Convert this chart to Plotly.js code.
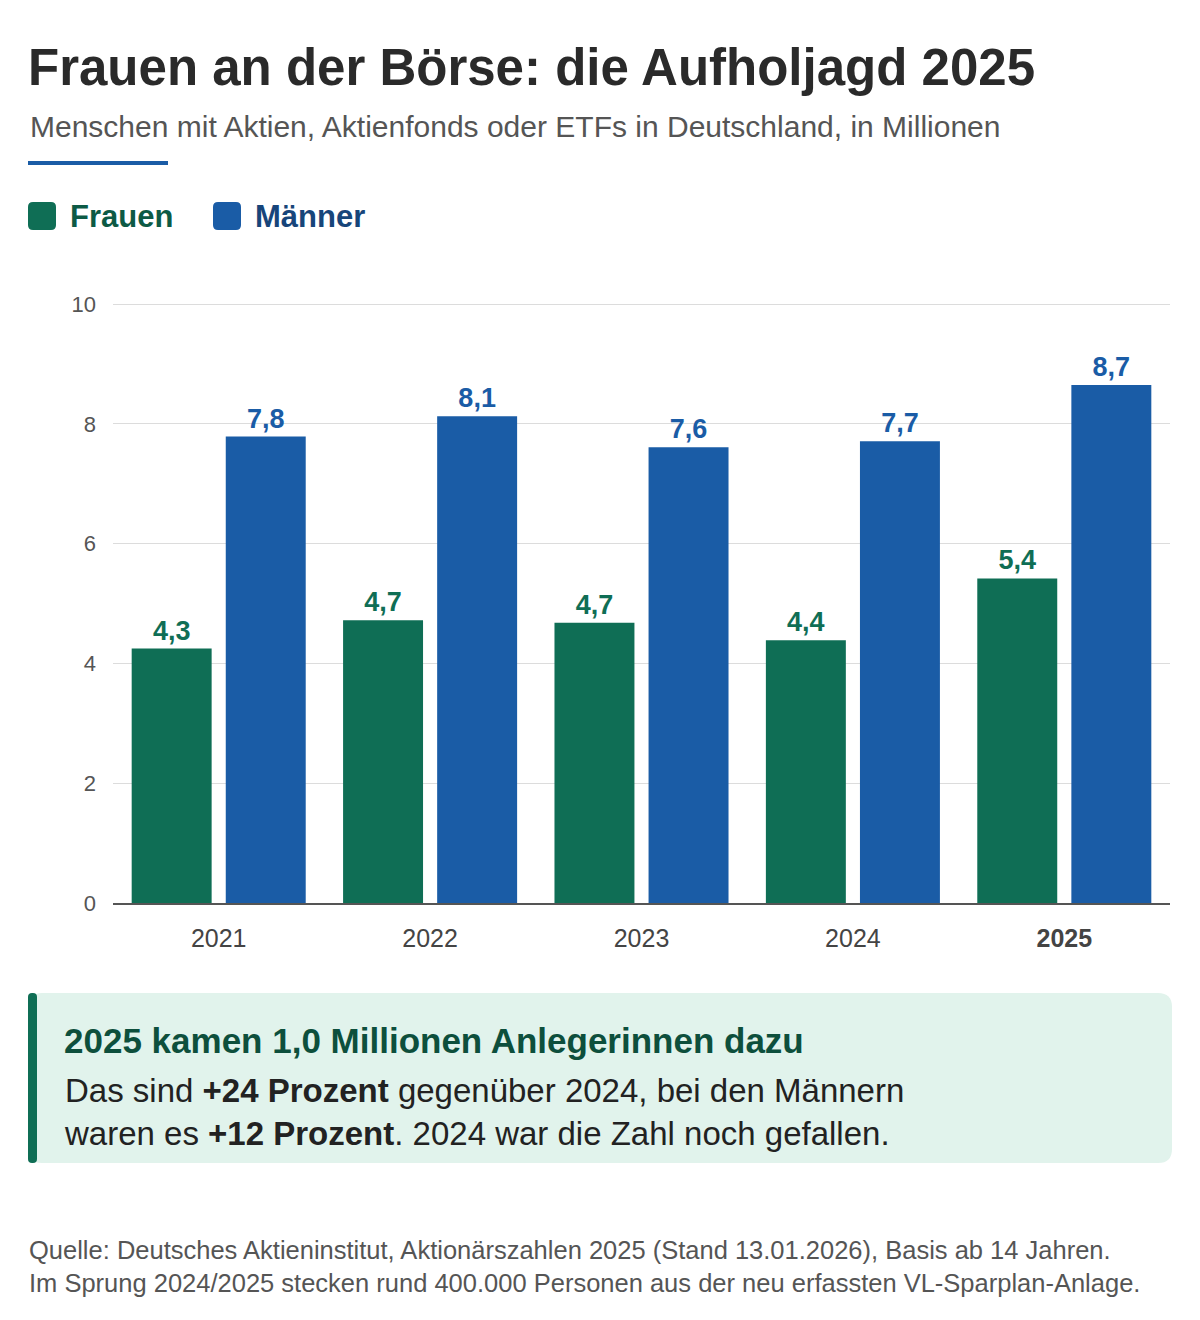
<!DOCTYPE html>
<html>
<head>
<meta charset="utf-8">
<script src="https://cdn.plot.ly/plotly-3.0.1.min.js"></script>
<style>body{margin:0;background:#fff}#chart{width:1200px;height:1320px}</style>
</head>
<body>
<div id="chart"></div>
<script>
const years = ['2021', '2022', '2023', '2024', '2025'];
const yearLabels = ['2021', '2022', '2023', '2024', '<b>2025</b>'];
const frauen = [4.25, 4.72, 4.68, 4.39, 5.42];
const maenner = [7.79, 8.13, 7.61, 7.71, 8.65];

const green = '#0f6e55';
const blue = '#1a5ca6';
const font = 'Liberation Sans, Arial, sans-serif';

// plot area in pixels
const L = 113, R = 1170, T = 303, B = 903;
function px(x) { return (x - L) / (R - L); }
function py(y) { return (B - y) / (B - T); }

function fmt(v) { return v.toFixed(1).replace('.', ','); }

function roundRect(x0, y0, x1, y1, r) {
    const a = px(x0), b = px(x1), c = py(y0), d = py(y1);
    const rx = r / (R - L), ry = r / (B - T);
    return 'M' + (a + rx) + ',' + c + ' L' + (b - rx) + ',' + c + ' Q' + b + ',' + c + ' ' + b + ',' + (c - ry) +
        ' L' + b + ',' + (d + ry) + ' Q' + b + ',' + d + ' ' + (b - rx) + ',' + d +
        ' L' + (a + rx) + ',' + d + ' Q' + a + ',' + d + ' ' + a + ',' + (d + ry) +
        ' L' + a + ',' + (c - ry) + ' Q' + a + ',' + c + ' ' + (a + rx) + ',' + c + ' Z';
}

const traces = [
    {
        x: years, y: frauen, type: 'bar', name: 'Frauen',
        marker: { color: green },
        text: frauen.map(fmt), textposition: 'outside', cliponaxis: false,
        textfont: { family: font, size: 27, color: green, weight: 'bold' },
        hoverinfo: 'none'
    },
    {
        x: years, y: maenner, type: 'bar', name: 'Männer',
        marker: { color: blue },
        text: maenner.map(fmt), textposition: 'outside', cliponaxis: false,
        textfont: { family: font, size: 27, color: blue, weight: 'bold' },
        hoverinfo: 'none'
    }
];

function ann(x, y, text, size, color, extra) {
    return Object.assign({
        xref: 'paper', yref: 'paper', x: px(x), y: py(y), text: text,
        showarrow: false, xanchor: 'left', yanchor: 'middle',
        font: { family: font, size: size, color: color }
    }, extra || {});
}

const layout = {
    width: 1200, height: 1320,
    margin: { l: L, r: 1200 - R, t: T, b: 1320 - B },
    paper_bgcolor: '#fff', plot_bgcolor: '#fff',
    showlegend: false,
    barmode: 'group', bargap: 0.11, bargroupgap: 0.15,
    font: { family: font },
    xaxis: {
        tickvals: years, ticktext: yearLabels,
        tickfont: { size: 25, color: '#444' }, ticks: '',
        showline: true, linecolor: '#555', linewidth: 2,
        ticklabelstandoff: 12, fixedrange: true
    },
    yaxis: {
        range: [0, 10.02], tickvals: [0, 2, 4, 6, 8, 10],
        tickfont: { size: 22, color: '#555' }, ticks: '', ticklen: 0,
        gridcolor: '#dcdcdc', zeroline: false, showline: false,
        ticklabelstandoff: 16, fixedrange: true
    },
    shapes: [
        { type: 'rect', xref: 'paper', yref: 'paper', x0: px(28), x1: px(168), y0: py(161), y1: py(165), fillcolor: blue, line: { width: 0 } },
        { type: 'path', xref: 'paper', yref: 'paper', path: roundRect(28, 202, 56, 230, 5), fillcolor: green, line: { width: 0 } },
        { type: 'path', xref: 'paper', yref: 'paper', path: roundRect(213, 202, 241, 230, 5), fillcolor: blue, line: { width: 0 } },
        { type: 'path', xref: 'paper', yref: 'paper', path: roundRect(28, 993, 1172, 1163, 14), fillcolor: '#e1f3ec', line: { width: 0 } },
        { type: 'path', xref: 'paper', yref: 'paper', path: roundRect(28, 993, 37, 1163, 4), fillcolor: green, line: { width: 0 } }
    ],
    annotations: [
        ann(26, 67, '<b>Frauen an der Börse: die Aufholjagd 2025</b>', 51, '#2a2a2a'),
        ann(28, 126, 'Menschen mit Aktien, Aktienfonds oder ETFs in Deutschland, in Millionen', 30, '#555'),
        ann(68, 216, '<b>Frauen</b>', 31, '#0d5a45'),
        ann(253, 216, '<b>Männer</b>', 31, '#17457a'),
        ann(62, 1040, '<b>2025 kamen 1,0 Millionen Anlegerinnen dazu</b>', 35, '#0d4f3c'),
        ann(62, 1112, 'Das sind <b>+24 Prozent</b> gegenüber 2024, bei den Männern<br>waren es <b>+12 Prozent</b>. 2024 war die Zahl noch gefallen.', 33, '#222', { align: 'left' }),
        ann(27, 1266, 'Quelle: Deutsches Aktieninstitut, Aktionärszahlen 2025 (Stand 13.01.2026), Basis ab 14 Jahren.<br>Im Sprung 2024/2025 stecken rund 400.000 Personen aus der neu erfassten VL-Sparplan-Anlage.', 25.5, '#555', { align: 'left' })
    ]
};

Plotly.newPlot('chart', traces, layout, { displayModeBar: false, staticPlot: true });
</script>
</body>
</html>
